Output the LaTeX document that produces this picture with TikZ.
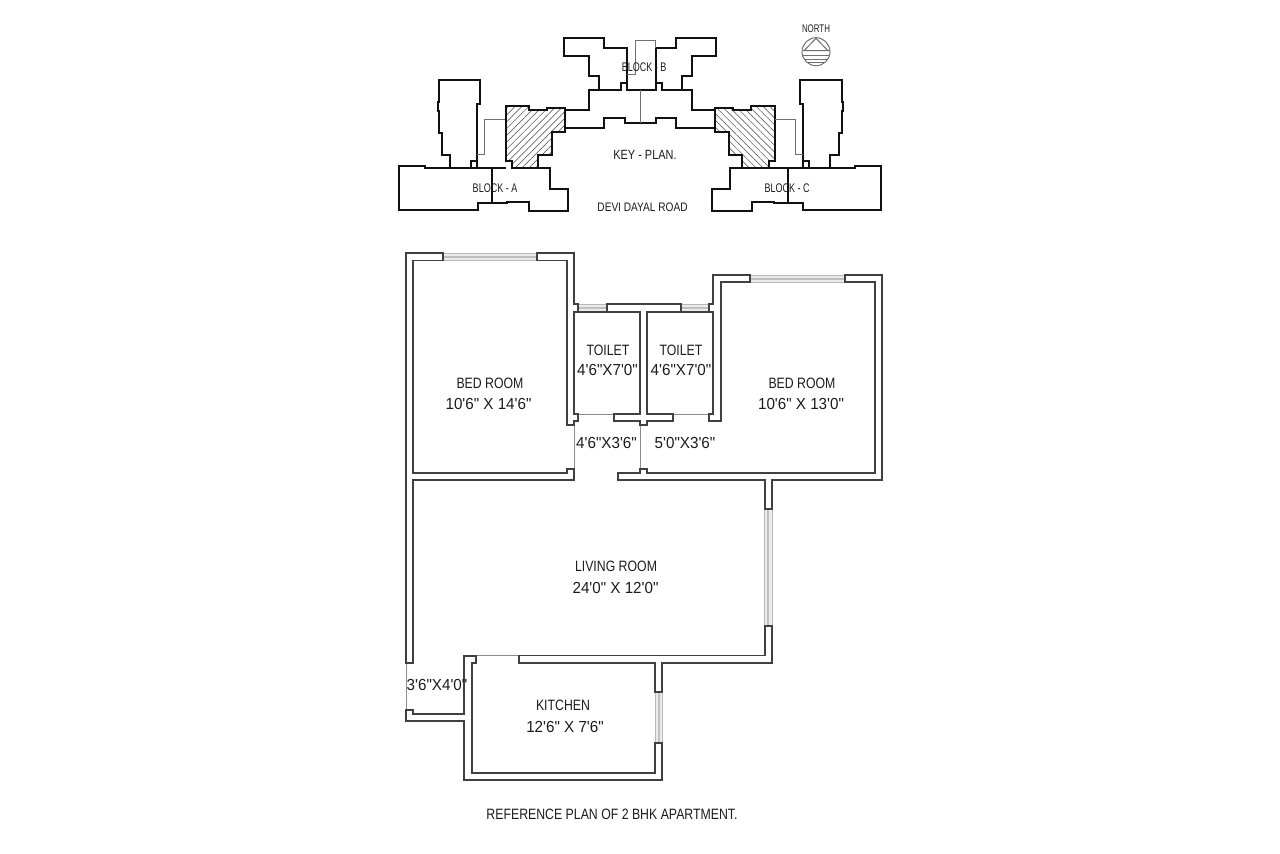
\documentclass[tikz,border=0pt]{standalone}
\usepackage{xcolor}
\usepackage{fontspec}
\usepackage{tikz}
\usetikzlibrary{patterns.meta,positioning}
\newfontfamily\labelfont[FakeStretch=0.82]{Liberation Sans}
\newfontfamily\narrowfont[FakeStretch=0.72]{Liberation Sans}
\newfontfamily\sizefont[FakeStretch=0.95]{Liberation Sans}
\definecolor{wallink}{HTML}{404040}
\definecolor{keyink}{HTML}{111111}
\definecolor{textink}{HTML}{1C1C1C}
\definecolor{thinink}{HTML}{8C8C8C}
\tikzset{
  WallLine/.style={draw=wallink, line width=1.05pt},
  DoorLine/.style={draw=thinink, line width=0.5pt},
  KeyLine/.style={draw=keyink, line width=1.15pt},
  KeyThin/.style={draw=thinink!80!black, line width=0.6pt},
  HatchL/.style={pattern={Lines[angle=45, distance=2.9pt, line width=0.4pt]}, pattern color=black!60},
  HatchR/.style={pattern={Lines[angle=-45, distance=2.9pt, line width=0.4pt]}, pattern color=black!60},
  RoomName/.style={text=textink, font=\labelfont\fontsize{9}{11}\selectfont, inner sep=0pt},
  RoomSize/.style={text=textink, font=\sizefont\fontsize{9.6}{11}\selectfont, inner sep=0pt},
  KeyName/.style={text=textink, font=\labelfont\fontsize{#1}{9}\selectfont, inner sep=0pt},
  BlockName/.style={text=textink, font=\narrowfont\fontsize{#1}{9}\selectfont, inner sep=0pt}
}
% glazed opening: #1,#2 = corner x,y ; #3,#4 = opposite corner x,y
\newcommand{\GlazeH}[4]{%
  \draw[draw=black!28, fill=black!8, line width=0.5pt] (#1,#2) rectangle (#3,#4);
  \draw[black!25, line width=1.3pt] (#1,{(#2+#4)/2}) -- (#3,{(#2+#4)/2});
}
\newcommand{\GlazeV}[4]{%
  \draw[draw=black!28, fill=black!8, line width=0.5pt] (#1,#2) rectangle (#3,#4);
  \draw[black!25, line width=1.3pt] ({(#1+#3)/2},#2) -- ({(#1+#3)/2},#4);
}
\begin{document}
\begin{tikzpicture}[x=0.6pt, y=-0.6pt, line cap=butt, line join=miter]
  \useasboundingbox (0,0) rectangle (1280,854);

  % key plan, block A
  \draw[KeyLine] (450.3,168.3) -- (450.3,155) -- (441.7,155) -- (441.7,133) -- (439,133) -- (439,110.7)
    -- (437.7,110.7) -- (437.7,101.7) -- (439,101.7) -- (439,80) -- (480,80) -- (480,104.3)
    -- (477.3,104.3) -- (477.3,168.3);
  \draw[KeyLine] (477.3,161) -- (471,161) -- (471,168.3);
  \draw[KeyLine] (512,168.3) -- (550.3,168.3) -- (550.3,189) -- (567.7,189) -- (567.7,210.7) -- (528.7,210.7)
    -- (528.7,202.3) -- (506.7,202.3) -- (506.7,203.3) -- (477.7,203.3) -- (477.7,210) -- (399,210)
    -- (399,165.7) -- (425,165.7) -- (425,168.3) -- (505.7,168.3);
  \draw[KeyLine] (491.7,168.3) -- (491.7,203.3);
  \draw[KeyThin] (477.3,154.3) -- (484.3,154.3) -- (484.3,119.3) -- (505.7,119.3);
  \draw[KeyLine, HatchL] (505.7,106) -- (529.3,106) -- (529.3,110) -- (546.7,110) -- (546.7,107.7) -- (565.3,107.7)
    -- (565.3,132.3) -- (552,132.3) -- (552,155) -- (538.3,155) -- (538.3,168.3) -- (512,168.3)
    -- (512,161) -- (505.7,161) -- cycle;

  % key plan, block B
  \draw[KeyLine] (565.3,110) -- (589,110) -- (589,90) -- (599,90) -- (599,76) -- (589,76) -- (589,55.7)
    -- (564,55.7) -- (564,37.7) -- (604.3,37.7) -- (604.3,47.7) -- (627,47.7) -- (627,90) -- (655.7,90)
    -- (655.7,47.7) -- (675.7,47.7) -- (675.7,37.7) -- (716,37.7) -- (716,55.7) -- (691.7,55.7)
    -- (691.7,76) -- (681.7,76) -- (681.7,90) -- (691.7,90) -- (691.7,110) -- (715.3,110);
  \draw[KeyLine] (599,90) -- (621.3,90) -- (621.3,82.7) -- (627,82.7);
  \draw[KeyLine] (655.7,82.7) -- (661.7,82.7) -- (661.7,90) -- (681.7,90);
  \draw[KeyLine] (565.3,128.3) -- (604.3,128.3) -- (604.3,118.3) -- (625,118.3) -- (625,123.3) -- (655.7,123.3)
    -- (655.7,118.3) -- (675.7,118.3) -- (675.7,128.3) -- (715.3,128.3);
  \draw[KeyThin] (627,75) -- (635,75) -- (635,40.7) -- (655.7,40.7) -- (655.7,47.7);
  \draw[KeyThin] (640,90) -- (640,123.3);

  % key plan, block C
  \draw[KeyLine, HatchR] (715.3,107.7) -- (733.3,107.7) -- (733.3,110) -- (750.7,110) -- (750.7,106) -- (774.7,106)
    -- (774.7,161) -- (768.7,161) -- (768.7,168.3) -- (741.7,168.3) -- (741.7,155) -- (728.7,155)
    -- (728.7,132.3) -- (715.3,132.3) -- cycle;
  \draw[KeyLine] (741.7,168.3) -- (730,168.3) -- (730,189) -- (712.3,189) -- (712.3,210.7) -- (751.7,210.7)
    -- (751.7,202.3) -- (774,202.3) -- (774,203.3) -- (803.3,203.3) -- (803.3,210) -- (880.7,210)
    -- (880.7,165.7) -- (855.3,165.7) -- (855.3,168.3) -- (768.7,168.3);
  \draw[KeyLine] (830,168.3) -- (830,155) -- (839,155) -- (839,133) -- (841.7,133) -- (841.7,110.7)
    -- (842.7,110.7) -- (842.7,101.7) -- (841.7,101.7) -- (841.7,80) -- (800.3,80) -- (800.3,104.3)
    -- (803,104.3) -- (803,168.3);
  \draw[KeyLine] (803,161) -- (809.3,161) -- (809.3,168.3);
  \draw[KeyLine] (788.3,168.3) -- (788.3,203.3);
  \draw[KeyThin] (774.7,119.3) -- (795.7,119.3) -- (795.7,154.3) -- (803,154.3);

  % north sign
  \coordinate (northC) at (816,51.7);
  \draw[KeyThin] (northC) circle (14);
  \draw[KeyThin] (804,50.7) -- (816,38.3) -- (828,50.7) -- cycle;
  \draw[KeyThin] (802.5,50.7) -- (829.5,50.7);
  \draw[KeyThin] (803,56) -- (829,56);
  \draw[KeyThin] (804,59.3) -- (828,59.3);
  \draw[KeyThin] (807,62.7) -- (825,62.7);

  % glazing first, walls stop on it
  \GlazeH{443}{253}{537}{260.5}
  \GlazeH{578}{304.2}{607.3}{311.7}
  \GlazeH{680.7}{304.2}{709}{311.7}
  \GlazeH{750.3}{275}{845}{282.3}
  \GlazeV{764.7}{509.3}{772}{626}
  \GlazeV{655}{692.3}{662.3}{743.3}

  % thin lines across the door openings
  \draw[DoorLine] (574.2,425.3) -- (574.2,469);
  \draw[DoorLine] (640.3,425) -- (640.3,468.7);
  \draw[DoorLine] (578,414) -- (614.3,414);
  \draw[DoorLine] (673.3,414) -- (709,414);
  \draw[DoorLine] (475.7,655.7) -- (519.3,655.7);
  \draw[DoorLine] (406,662.7) -- (406,710);

  % bed room left, living room
  \draw[WallLine] (443,253) -- (406,253) -- (406,662.7) -- (413.3,662.7) -- (413.3,480) -- (574.2,480)
    -- (574.2,469) -- (567,469) -- (567,472.7) -- (413.3,472.7) -- (413.3,260.5) -- (443,260.5) -- cycle;
  \draw[WallLine] (537,260.5) -- (567,260.5) -- (567,425.3) -- (574.2,425.3) -- (574.2,421) -- (578,421)
    -- (578,414) -- (574.2,414) -- (574.2,311.7) -- (578,311.7) -- (578,304.2) -- (574.2,304.2)
    -- (574.2,253) -- (537,253) -- cycle;

  % toilets
  \draw[WallLine] (574.2,311.7) -- (607.3,311.7) -- (607.3,304.2) -- (680.7,304.2) -- (680.7,311.7)
    -- (647.3,311.7) -- (647.3,414) -- (673.3,414) -- (673.3,421.3) -- (647.3,421.3) -- (647.3,425)
    -- (640.3,425) -- (640.3,421.3) -- (614.3,421.3) -- (614.3,414) -- (640.3,414) -- (640.3,311.7)
    -- (607.3,311.7);
  \draw[WallLine] (680.7,311.7) -- (709,311.7) -- (709,304.2) -- (713.3,304.2) -- (713.3,275) -- (750.3,275)
    -- (750.3,282.3) -- (720.7,282.3) -- (720.7,421) -- (709,421) -- (709,414) -- (713.3,414)
    -- (713.3,311.7) -- (709,311.7);

  % bed room right, wall down to the living room window
  \draw[WallLine] (845,275) -- (882,275) -- (882,480.3) -- (772,480.3) -- (772,509.3) -- (764.7,509.3)
    -- (764.7,480.3) -- (618,480.3) -- (618,472.7) -- (640.3,472.7) -- (640.3,468.7) -- (647.3,468.7)
    -- (647.3,472.7) -- (874.7,472.7) -- (874.7,282.3) -- (845,282.3) -- cycle;

  % lower living room wall, kitchen
  \draw[WallLine] (764.7,626) -- (772,626) -- (772,662.7) -- (662.3,662.7) -- (662.3,692.3) -- (655,692.3)
    -- (655,663) -- (519.3,663) -- (519.3,655.5) -- (764.7,655.5) -- cycle;
  \draw[WallLine] (475.7,655.7) -- (464.3,655.7) -- (464.3,714) -- (413.3,714) -- (413.3,710) -- (406,710)
    -- (406,721.3) -- (464.3,721.3) -- (464.3,780) -- (662.3,780) -- (662.3,743.3) -- (655,743.3)
    -- (655,772.7) -- (471.7,772.7) -- (471.7,663) -- (475.7,663) -- cycle;

  % key plan labels
  \node[BlockName=7.5] (blockB) at (644,67) {BLOCK - B};
  \node[BlockName=7.5] (blockA) at (495,188) {BLOCK - A};
  \node[BlockName=7.5] (blockC) at (787,188) {BLOCK - C};
  \node[KeyName=8] (keyPlan) at (645,155) {KEY - PLAN.};
  \node[KeyName=7.4] (roadName) at (642.5,207) {DEVI DAYAL ROAD};
  \node[BlockName=6.6] (northName) at (816,28.5) {NORTH};

  % room labels
  \node[RoomName] (bedA) at (490,383) {BED ROOM};
  \node[RoomSize] (bedAsize) at (488.5,403.5) {10'6" X 14'6"};
  \node[RoomName] (toiletA) at (608,350.5) {TOILET};
  \node[RoomSize] (toiletAsize) at (607.5,369.5) {4'6"X7'0"};
  \node[RoomName] (toiletB) at (681,350.5) {TOILET};
  \node[RoomSize] (toiletBsize) at (681,369.5) {4'6"X7'0"};
  \node[RoomName] (bedB) at (802,383) {BED ROOM};
  \node[RoomSize] (bedBsize) at (801,403.5) {10'6" X 13'0"};
  \node[RoomSize] (lobbyA) at (606.5,443) {4'6"X3'6"};
  \node[RoomSize] (lobbyB) at (685,443) {5'0"X3'6"};
  \node[RoomName] (livingName) at (616,566) {LIVING ROOM};
  \node[RoomSize] (livingSize) at (615.5,587.5) {24'0" X 12'0"};
  \node[RoomSize] (dryName) at (437,684.5) {3'6"X4'0"};
  \node[RoomName] (kitchenName) at (563,705) {KITCHEN};
  \node[RoomSize] (kitchenSize) at (565,726.5) {12'6" X 7'6"};
  \node[RoomName] (planTitle) at (612,814) {REFERENCE PLAN OF 2 BHK APARTMENT.};
\end{tikzpicture}
\end{document}
